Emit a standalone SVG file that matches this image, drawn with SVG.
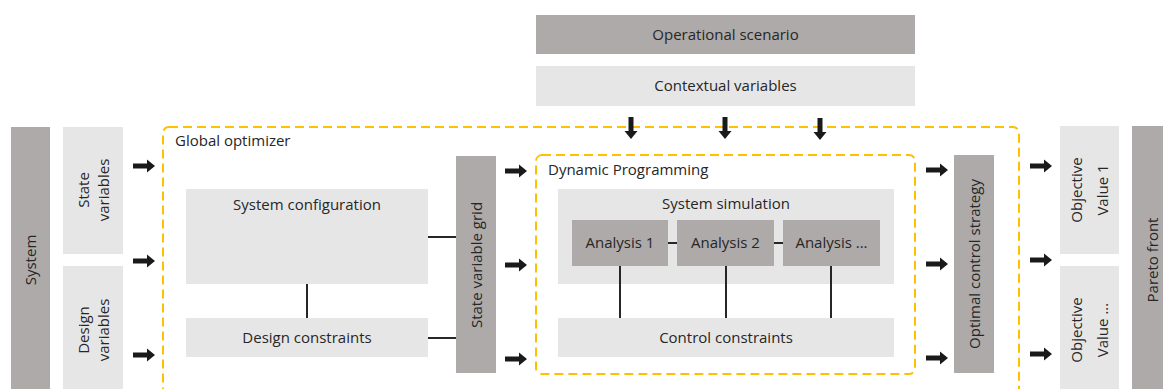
<svg xmlns="http://www.w3.org/2000/svg" width="1163" height="389" viewBox="0 0 1163 389">
<style>
.dk{fill:#aeaaaa}
.lt{fill:#e7e6e6}
.t{font-family:"Open Sans","Liberation Sans",sans-serif;font-size:15px;fill:#262626;text-anchor:middle;dominant-baseline:central}
.tl{font-family:"Open Sans","Liberation Sans",sans-serif;font-size:15px;fill:#262626}
.dash{fill:none;stroke:#ffc000;stroke-width:2;stroke-dasharray:9 5}
.ln{stroke:#262626;stroke-width:2;fill:none}
</style>
<defs>
<path id="ar" d="M0,-2.5 H14 V-6.5 L22,0 L14,6.5 V2.5 H0 Z" fill="#1a1a1a"/>
</defs>
<rect width="1163" height="389" fill="#ffffff"/>

<g id="containers">
<rect id="global-optimizer" class="dash" x="163" y="127" width="856" height="280" rx="6"/>
<text class="tl" x="175" y="145.5">Global optimizer</text>
<rect id="dynamic-programming" class="dash" x="536" y="155" width="379" height="219" rx="6"/>
<text class="tl" x="548" y="174.5">Dynamic Programming</text>
</g>

<g id="operational-scenario"><rect class="dk" x="536" y="15" width="379" height="39"/><text class="t" x="725.5" y="33.5">Operational scenario</text></g>
<g id="contextual-variables"><rect class="lt" x="536" y="66" width="379" height="40"/><text class="t" x="725.5" y="85">Contextual variables</text></g>

<g id="system"><rect class="dk" x="11" y="127" width="39" height="270"/><text class="t" transform="translate(30,260) rotate(-90)">System</text></g>
<g id="state-variables"><rect class="lt" x="63" y="127" width="60" height="127"/><text class="t" transform="translate(93,190) rotate(-90)"><tspan x="0" y="-10">State</tspan><tspan x="0" y="10">variables</tspan></text></g>
<g id="design-variables"><rect class="lt" x="63" y="266" width="60" height="130"/><text class="t" transform="translate(93,330) rotate(-90)"><tspan x="0" y="-10">Design</tspan><tspan x="0" y="10">variables</tspan></text></g>

<g id="system-configuration"><rect class="lt" x="186" y="189" width="242" height="95"/><text class="t" x="307" y="204">System configuration</text></g>
<g id="design-constraints"><rect class="lt" x="186" y="318" width="242" height="39"/><text class="t" x="307" y="336.5">Design constraints</text></g>

<g id="state-variable-grid"><rect class="dk" x="456" y="156" width="40" height="217"/><text class="t" transform="translate(475.5,265) rotate(-90)">State variable grid</text></g>

<g id="system-simulation"><rect class="lt" x="558" y="189" width="336" height="95"/><text class="t" x="726" y="203">System simulation</text></g>
<g id="analysis-1"><rect class="dk" x="572" y="220" width="96" height="46"/><text class="t" x="620" y="242">Analysis 1</text></g>
<g id="analysis-2"><rect class="dk" x="677" y="220" width="97" height="46"/><text class="t" x="725.5" y="242">Analysis 2</text></g>
<g id="analysis-n"><rect class="dk" x="783" y="220" width="97" height="46"/><text class="t" x="831.5" y="242">Analysis ...</text></g>
<g id="control-constraints"><rect class="lt" x="558" y="318" width="336" height="39"/><text class="t" x="726" y="336.5">Control constraints</text></g>

<g id="optimal-control-strategy"><rect class="dk" x="954" y="155" width="40" height="218"/><text class="t" transform="translate(973.5,264) rotate(-90)">Optimal control strategy</text></g>

<g id="objective-value-1"><rect class="lt" x="1060" y="126" width="59" height="128"/><text class="t" transform="translate(1089,190) rotate(-90)"><tspan x="0" y="-13">Objective</tspan><tspan x="0" y="13">Value 1</tspan></text></g>
<g id="objective-value-n"><rect class="lt" x="1060" y="266" width="59" height="130"/><text class="t" transform="translate(1089,330) rotate(-90)"><tspan x="0" y="-13">Objective</tspan><tspan x="0" y="13">Value ...</tspan></text></g>
<g id="pareto-front"><rect class="dk" x="1132" y="126" width="40" height="270"/><text class="t" transform="translate(1151.5,260) rotate(-90)">Pareto front</text></g>

<g id="connectors">
<line class="ln" x1="307" y1="284" x2="307" y2="318"/>
<line class="ln" x1="428" y1="237" x2="456" y2="237"/>
<line class="ln" x1="428" y1="338" x2="456" y2="338"/>
<line class="ln" x1="668" y1="243" x2="677" y2="243"/>
<line class="ln" x1="774" y1="243" x2="783" y2="243"/>
<line class="ln" x1="620" y1="266" x2="620" y2="318"/>
<line class="ln" x1="726" y1="266" x2="726" y2="318"/>
<line class="ln" x1="831" y1="266" x2="831" y2="318"/>
<use href="#ar" transform="translate(631,117) rotate(90)"/>
<use href="#ar" transform="translate(725,117) rotate(90)"/>
<use href="#ar" transform="translate(820,118) rotate(90)"/>
<use href="#ar" transform="translate(133,166)"/>
<use href="#ar" transform="translate(133,261)"/>
<use href="#ar" transform="translate(133,355)"/>
<use href="#ar" transform="translate(505,171)"/>
<use href="#ar" transform="translate(505,265)"/>
<use href="#ar" transform="translate(505,359)"/>
<use href="#ar" transform="translate(926,170)"/>
<use href="#ar" transform="translate(926,264)"/>
<use href="#ar" transform="translate(926,358)"/>
<use href="#ar" transform="translate(1030,166)"/>
<use href="#ar" transform="translate(1030,260)"/>
<use href="#ar" transform="translate(1030,354)"/>
</g>
</svg>
